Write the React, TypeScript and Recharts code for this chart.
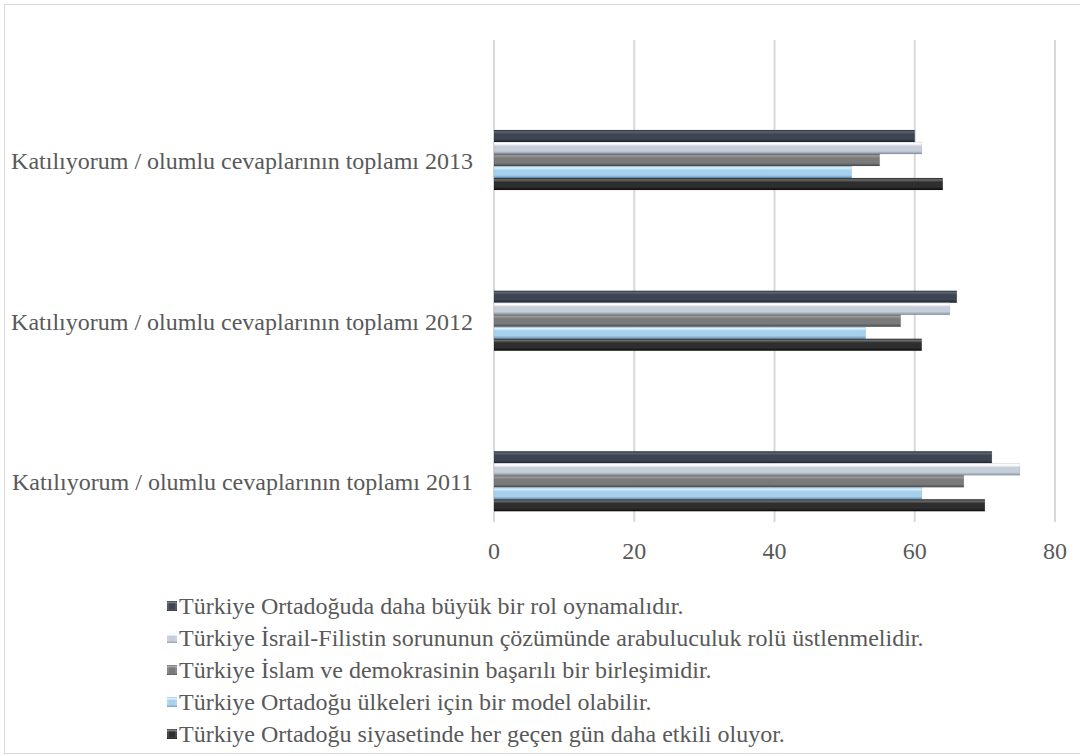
import React from 'react';
import { BarChart, Bar, XAxis, YAxis, CartesianGrid, Legend } from 'recharts';

// categories, top to bottom
const categories = [
  'Katılıyorum / olumlu cevaplarının toplamı 2013',
  'Katılıyorum / olumlu cevaplarının toplamı 2012',
  'Katılıyorum / olumlu cevaplarının toplamı 2011',
];

const seriesNames = [
  'Türkiye Ortadoğuda daha büyük bir rol oynamalıdır.',
  'Türkiye İsrail-Filistin sorununun çözümünde arabuluculuk rolü üstlenmelidir.',
  'Türkiye İslam ve demokrasinin başarılı bir birleşimidir.',
  'Türkiye Ortadoğu ülkeleri için bir model olabilir.',
  'Türkiye Ortadoğu siyasetinde her geçen gün daha etkili oluyor.',
];

const rolValues = [60, 66, 71];
const arabuluculukValues = [61, 65, 75];
const islamDemokrasiValues = [55, 58, 67];
const modelValues = [51, 53, 61];
const etkiliValues = [64, 61, 70];

const xTicks = [0, 20, 40, 60, 80];

const data = categories.map((name, i) => ({
  name,
  s0: rolValues[i],
  s1: arabuluculukValues[i],
  s2: islamDemokrasiValues[i],
  s3: modelValues[i],
  s4: etkiliValues[i],
}));

// bevel-like vertical gradients: [top, highlight, mid, bottom]
const gradients = [
  ['#2c333c', '#5b6470', '#3c4551', '#1e242c'],
  ['#e9eef5', '#ffffff', '#c6ceda', '#87919f'],
  ['#6a6a6a', '#9a9a9a', '#7a7a7a', '#4a4a4a'],
  ['#8db8de', '#dcf2fd', '#a6d1ee', '#6a92be'],
  ['#2a2a2a', '#6c6c6c', '#2e2e2e', '#0c0c0c'],
];

const FONT = "'Times New Roman', Times, 'Liberation Serif', serif";
const TEXT = '#595959';

function LegendBox() {
  return (
    <div style={{ fontFamily: FONT, fontSize: 24, color: TEXT }}>
      {seriesNames.map((n, i) => (
        <div key={n} style={{ height: 32, display: 'flex', alignItems: 'center', whiteSpace: 'nowrap' }}>
          <svg width={10} height={10} style={{ marginRight: 2 }}>
            <rect x={0} y={0} width={10} height={10} fill={`url(#grad${i})`} />
            <rect x={1} y={1} width={8} height={8} fill="none" stroke="rgba(255,255,255,0.25)" strokeWidth={1} />
          </svg>
          <span>{n}</span>
        </div>
      ))}
    </div>
  );
}

export default function App() {
  return (
    <div style={{ position: 'absolute', left: 0, top: 0, width: 1080, height: 756, overflow: 'hidden', background: '#fff' }}>
      <div
        style={{
          position: 'absolute',
          left: 4,
          top: 4,
          width: 1090,
          height: 748,
          border: '1px solid #d9d9d9',
        }}
      />
      <BarChart
        width={1080}
        height={756}
        data={data}
        layout="vertical"
        margin={{ top: 40, right: 25, bottom: 34, left: 0 }}
        barCategoryGap={50}
        barGap={0}
        style={{ position: 'absolute', left: 0, top: 0 }}
      >
        <defs>
          {gradients.map((g, i) => (
            <linearGradient key={i} id={`grad${i}`} x1="0" y1="0" x2="0" y2="1">
              <stop offset="0%" stopColor={g[0]} />
              <stop offset="15%" stopColor={g[1]} />
              <stop offset="35%" stopColor={g[2]} />
              <stop offset="75%" stopColor={g[2]} />
              <stop offset="100%" stopColor={g[3]} />
            </linearGradient>
          ))}
        </defs>
        <CartesianGrid horizontal={false} stroke="#d9d9d9" strokeWidth={2} />
        <XAxis
          type="number"
          domain={[0, 80]}
          ticks={xTicks}
          axisLine={false}
          tickLine={false}
          tickSize={0}
          tickMargin={20}
          height={40}
          tick={{ fill: TEXT, fontFamily: FONT, fontSize: 24 }}
        />
        <YAxis
          type="category"
          dataKey="name"
          width={494}
          axisLine={false}
          tickLine={false}
          tickSize={0}
          tickMargin={21}
          padding={{ top: 40, bottom: -40 }}
          tick={{ fill: TEXT, fontFamily: FONT, fontSize: 24 }}
        />
        {seriesNames.map((n, i) => (
          <Bar
            key={n}
            dataKey={`s${i}`}
            name={n}
            fill={`url(#grad${i})`}
            stroke="rgba(0,0,0,0.15)"
            strokeWidth={0.5}
            isAnimationActive={false}
          />
        ))}
        <Legend
          verticalAlign="bottom"
          height={160}
          content={() => <LegendBox />}
          wrapperStyle={{ position: 'absolute', left: 167, top: 590, width: 900, height: 160 }}
        />
      </BarChart>
    </div>
  );
}
